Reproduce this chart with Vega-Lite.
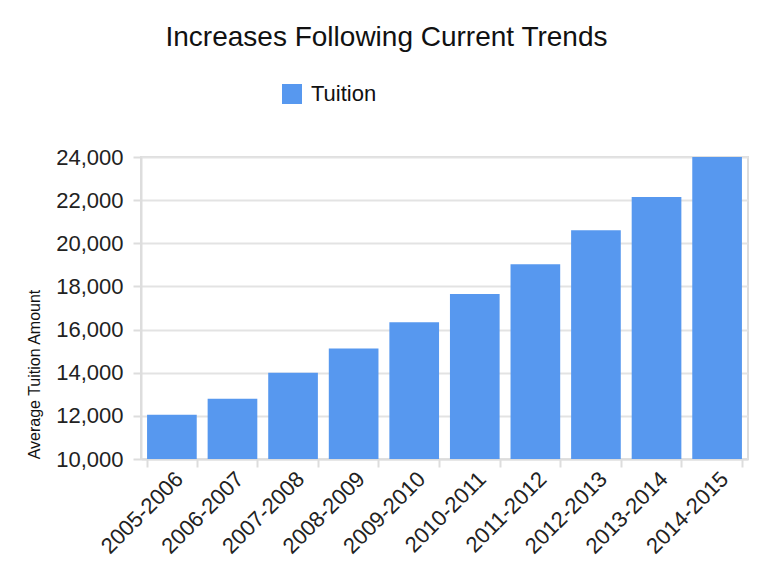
{
  "$schema": "https://vega.github.io/schema/vega-lite/v6.json",
  "autosize": {"type": "none"},
  "width": 607,
  "height": 302,
  "padding": {"left": 141, "top": 157, "right": 12, "bottom": 108},
  "background": "white",
  "title": {
    "text": "Increases Following Current Trends",
    "font": "Liberation Sans",
    "fontSize": 28,
    "fontWeight": "normal",
    "color": "#111111",
    "anchor": "middle",
    "frame": "group",
    "dx": -58,
    "baseline": "alphabetic",
    "offset": 9
  },
  "data": {
    "values": [
      {"year": "2005-2006", "series": "Tuition", "amount": 12050},
      {"year": "2006-2007", "series": "Tuition", "amount": 12790},
      {"year": "2007-2008", "series": "Tuition", "amount": 14000},
      {"year": "2008-2009", "series": "Tuition", "amount": 15120},
      {"year": "2009-2010", "series": "Tuition", "amount": 16340},
      {"year": "2010-2011", "series": "Tuition", "amount": 17650},
      {"year": "2011-2012", "series": "Tuition", "amount": 19030},
      {"year": "2012-2013", "series": "Tuition", "amount": 20600},
      {"year": "2013-2014", "series": "Tuition", "amount": 22150},
      {"year": "2014-2015", "series": "Tuition", "amount": 24000}
    ]
  },
  "mark": {"type": "bar", "clip": true},
  "encoding": {
    "x": {
      "field": "year",
      "type": "nominal",
      "sort": null,
      "scale": {"paddingInner": 0.18, "paddingOuter": 0.1},
      "axis": {
        "title": null,
        "labelAngle": -45,
        "labelAlign": "right",
        "labelBaseline": "top",
        "labelFont": "Liberation Sans",
        "labelFontSize": 22,
        "labelColor": "#222222",
        "labelPadding": 1,
        "tickBand": "extent",
        "tickSize": 8,
        "tickColor": "#dddddd",
        "tickWidth": 2,
        "domainColor": "#dddddd",
        "domainWidth": 2,
        "grid": false
      }
    },
    "y": {
      "field": "amount",
      "type": "quantitative",
      "scale": {"domain": [10000, 24000], "nice": false, "zero": false},
      "axis": {
        "title": "Average Tuition Amount",
        "titleFont": "Liberation Sans",
        "titleFontSize": 16,
        "titleFontWeight": "normal",
        "titleColor": "#111111",
        "titleAngle": -90,
        "titleAlign": "center",
        "titleBaseline": "middle",
        "titleX": -107,
        "titleY": 217,
        "values": [10000, 12000, 14000, 16000, 18000, 20000, 22000, 24000],
        "format": ",d",
        "labelFont": "Liberation Sans",
        "labelFontSize": 22,
        "labelColor": "#222222",
        "labelPadding": 10,
        "tickSize": 8,
        "tickColor": "#dddddd",
        "tickWidth": 2,
        "domainColor": "#dddddd",
        "domainWidth": 2,
        "grid": true,
        "gridColor": "#e3e3e3",
        "gridWidth": 2
      }
    },
    "color": {
      "field": "series",
      "type": "nominal",
      "scale": {"range": ["#5798ef"]},
      "legend": {
        "title": null,
        "orient": "none",
        "legendX": 140,
        "legendY": -74,
        "symbolType": "square",
        "symbolSize": 400,
        "symbolStrokeWidth": 0,
        "labelFont": "Liberation Sans",
        "labelFontSize": 22,
        "labelColor": "#111111",
        "labelOffset": 8
      }
    }
  },
  "config": {
    "view": {"stroke": "#dddddd", "strokeWidth": 2}
  }
}
